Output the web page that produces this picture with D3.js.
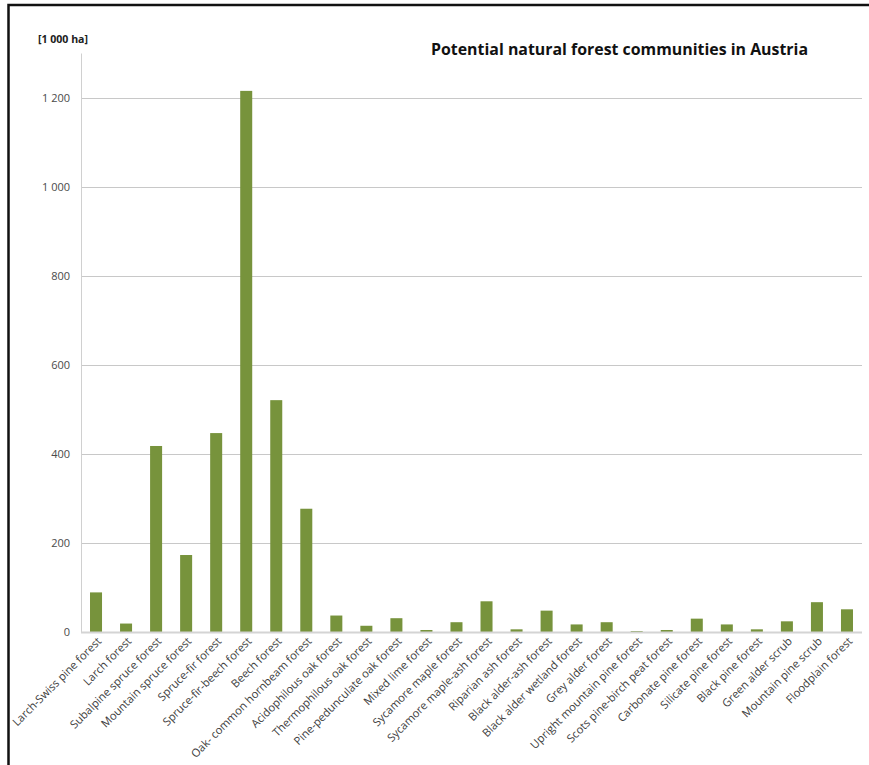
<!DOCTYPE html>
<html>
<head>
<meta charset="utf-8">
<script src="https://cdn.jsdelivr.net/npm/d3@7"></script>
<style>
  html, body { margin: 0; padding: 0; background: #fff; }
  svg { display: block; }
  text { font-family: "Open Sans", "Noto Sans", sans-serif; }
</style>
</head>
<body>
<svg id="chart" width="869" height="765"></svg>
<script>
// Forest community names (x categories)
const communities = [
  "Larch-Swiss pine forest", "Larch forest", "Subalpine spruce forest",
  "Mountain spruce forest", "Spruce-fir forest", "Spruce-fir-beech forest",
  "Beech forest", "Oak- common hornbeam forest", "Acidophilous oak forest",
  "Thermophilous oak forest", "Pine-pedunculate oak forest", "Mixed lime forest",
  "Sycamore maple forest", "Sycamore maple-ash forest", "Riparian ash forest",
  "Black alder-ash forest", "Black alder wetland forest", "Grey alder forest",
  "Upright mountain pine forest", "Scots pine-birch peat forest",
  "Carbonate pine forest", "Silicate pine forest", "Black pine forest",
  "Green alder scrub", "Mountain pine scrub", "Floodplain forest"
];
// Potential area in 1 000 ha
const areas = [
  89, 19, 418, 173, 447, 1216, 521, 277, 37, 14, 31, 4.5, 22, 69, 6, 48,
  17, 22, 2, 4.5, 30, 17, 6, 24, 67, 51
];
const yTicks = [0, 200, 400, 600, 800, 1000, 1200];
const yTickLabels = ["0", "200", "400", "600", "800", "1 000", "1 200"];
const unitLabel = "[1 000 ha]";
const title = "Potential natural forest communities in Austria";

const svg = d3.select("#chart");
const plot = { left: 81, right: 862, top: 53.5, bottom: 632 };

// outer chart frame: top and left edges (the rest runs off the page)
svg.append("path")
  .attr("d", "M8.5,900 L8.5,5 L900,5")
  .attr("fill", "none").attr("stroke", "#111").attr("stroke-width", 2.5);

const x = d3.scaleBand()
  .domain(communities)
  .range([plot.left, plot.right])
  .paddingInner(0.6)
  .paddingOuter(0.3);

const y = d3.scaleLinear()
  .domain([0, 1300])
  .range([plot.bottom, plot.top]);

// horizontal gridlines
svg.append("g")
  .selectAll("line")
  .data(yTicks.filter(d => d > 0))
  .join("line")
  .attr("x1", plot.left).attr("x2", plot.right)
  .attr("y1", d => Math.round(y(d)) + 0.5).attr("y2", d => Math.round(y(d)) + 0.5)
  .attr("stroke", "#c8c8c8").attr("stroke-width", 1);

// y axis line
svg.append("line")
  .attr("x1", plot.left + 0.5).attr("x2", plot.left + 0.5)
  .attr("y1", plot.top).attr("y2", plot.bottom)
  .attr("stroke", "#d0d0d0").attr("stroke-width", 1);

// y tick labels
const yAxis = d3.axisLeft(y)
  .tickValues(yTicks)
  .tickSize(0)
  .tickPadding(11)
  .tickFormat((d, i) => yTickLabels[i]);
const gy = svg.append("g")
  .attr("transform", `translate(${plot.left},0)`)
  .call(yAxis);
gy.select(".domain").remove();
gy.selectAll("text")
  .attr("fill", "#4a4a4a")
  .style("font-size", "11px")
  .style("font-family", "'Open Sans', sans-serif");

// bars
svg.append("g")
  .selectAll("rect")
  .data(areas)
  .join("rect")
  .attr("x", (d, i) => x(communities[i]))
  .attr("width", x.bandwidth())
  .attr("y", d => y(d))
  .attr("height", d => y(0) - y(d))
  .attr("fill", "#77933c");

// category axis baseline
svg.append("line")
  .attr("x1", plot.left).attr("x2", plot.right)
  .attr("y1", plot.bottom + 0.5).attr("y2", plot.bottom + 0.5)
  .attr("stroke", "#d4d4d4").attr("stroke-width", 2);

// rotated category labels
const xAxis = d3.axisBottom(x).tickSize(0).tickPadding(0);
const gx = svg.append("g")
  .attr("transform", `translate(0,${plot.bottom})`)
  .call(xAxis);
gx.select(".domain").remove();
gx.selectAll("text")
  .attr("fill", "#404040")
  .style("font-size", "11.2px")
  .attr("text-anchor", "end")
  .attr("dy", null)
  .attr("y", 0)
  .attr("transform", "translate(6,10) rotate(-45)");

// unit label
svg.append("text")
  .attr("x", 38).attr("y", 43)
  .attr("fill", "#202020")
  .style("font-size", "10px")
  .style("font-weight", "bold")
  .attr("textLength", 50)
  .attr("lengthAdjust", "spacingAndGlyphs")
  .text(unitLabel);

// title
svg.append("text")
  .attr("x", 431).attr("y", 55)
  .attr("fill", "#111")
  .style("font-size", "15.5px")
  .style("font-weight", "bold")
  .attr("textLength", 377)
  .attr("lengthAdjust", "spacingAndGlyphs")
  .text(title);
</script>
</body>
</html>
